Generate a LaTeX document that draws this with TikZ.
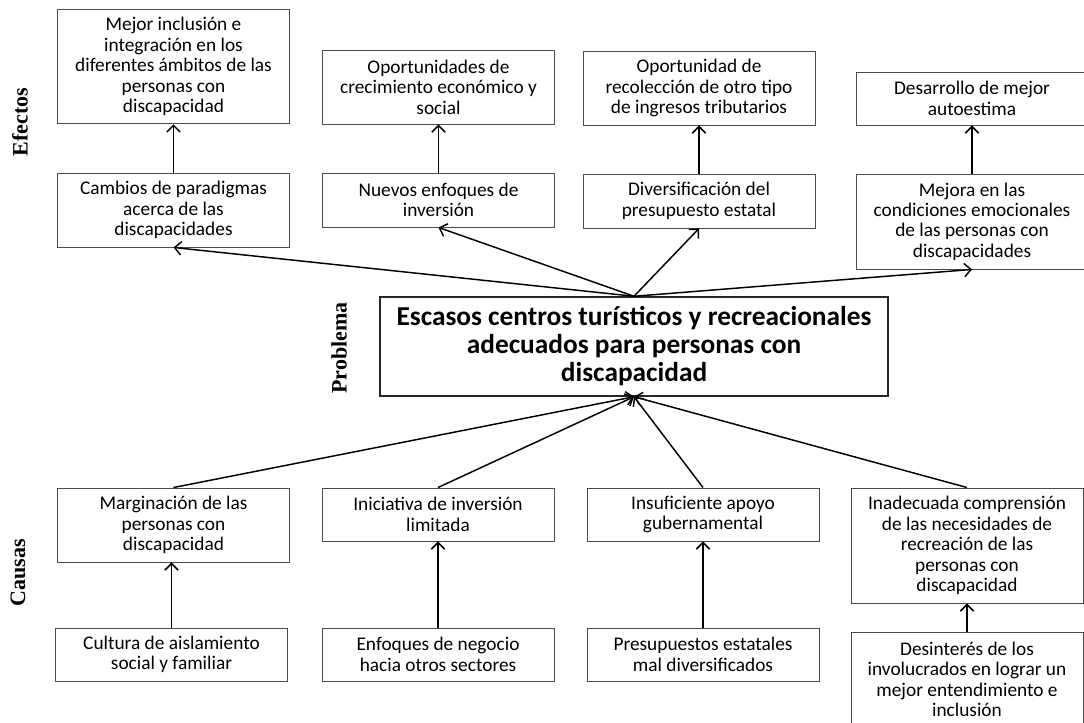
\documentclass[tikz,border=0pt]{standalone}
\usepackage{fontspec}
\setmainfont{Carlito}
\newfontfamily\etiqfont{Liberation Serif}
\usetikzlibrary{arrows.meta}

\tikzset{
  caja/.style={draw=black!70,line width=0.7pt,align=center,minimum width=174pt,
    inner sep=2pt,font=\fontsize{14.5}{15.3}\selectfont},
  flecha/.style={-{Straight Barb[length=5pt,width=10pt]},line width=1.1pt},
  etiq/.style={rotate=90,font=\etiqfont\bfseries\fontsize{16.5}{18}\selectfont}
}

\begin{document}
\begin{tikzpicture}[x=0.75pt,y=-0.75pt]
  \useasboundingbox (0,0) rectangle (1084,723);
  % efectos
  \node[caja,minimum height=86pt] (mejor) at (173.5,66.5)
    {Mejor inclusión e\\integración en los\\diferentes ámbitos de las\\personas con\\discapacidad};
  \node[caja,minimum height=55.5pt] (oport) at (438.5,87)
    {Oportunidades de\\crecimiento económico y\\social};
  \node[caja,minimum height=55.5pt] (recol) at (699,88)
    {Oportunidad de\\recolección de otro tipo\\de ingresos tributarios};
  \node[caja,minimum height=39.75pt] (autoest) at (972,98.5)
    {Desarrollo de mejor\\autoestima};
  \node[caja,minimum height=55.5pt] (cambios) at (173.5,210)
    {Cambios de paradigmas\\acerca de las\\discapacidades};
  \node[caja,minimum height=40.5pt] (nuevos) at (438.5,200)
    {Nuevos enfoques de\\inversión};
  \node[caja,minimum height=40.5pt] (divers) at (699,201)
    {Diversificación del\\presupuesto estatal};
  \node[caja,minimum height=71.25pt] (mejora) at (972,221.5)
    {Mejora en las\\condiciones emocionales\\de las personas con\\discapacidades};
  % problema
  \node[caja,line width=1.1pt,draw=black!85,minimum width=381pt,minimum height=74.25pt,
    font=\bfseries\fontsize{20.5}{21}\selectfont] (prob) at (634,346.5)
    {Escasos centros turísticos y recreacionales\\adecuados para personas con\\discapacidad};
  % causas
  \node[caja,minimum height=55.5pt] (margin) at (173.5,525)
    {Marginación de las\\personas con\\discapacidad};
  \node[caja,minimum height=39.75pt] (inic) at (438,514.5)
    {Iniciativa de inversión\\limitada};
  \node[caja,minimum height=39.75pt] (insuf) at (703,514.5)
    {Insuficiente apoyo\\gubernamental};
  \node[caja,minimum height=86.25pt] (inadec) at (967,545.5)
    {Inadecuada comprensión\\de las necesidades de\\recreación de las\\personas con\\discapacidad};
  \node[caja,minimum height=39.75pt] (cultura) at (171.5,654.5)
    {Cultura de aislamiento\\social y familiar};
  \node[caja,minimum height=39.75pt] (enfoq) at (438,654.5)
    {Enfoques de negocio\\hacia otros sectores};
  \node[caja,minimum height=39.75pt] (presup) at (703,654.5)
    {Presupuestos estatales\\mal diversificados};
  \node[caja,minimum height=71.25pt] (desint) at (967,679.5)
    {Desinterés de los\\involucrados en lograr un\\mejor entendimiento e\\inclusión};
  % etiquetas
  \node[etiq] (efectos) at (20,122) {Efectos};
  \node[etiq] (problema) at (339,348) {Problema};
  \node[etiq] (causas) at (18,573) {Causas};
  % flechas
  \foreach \a/\b in {cambios/mejor,nuevos/oport,divers/recol,mejora/autoest,
                     enfoq/inic,presup/insuf,desint/inadec}
    \draw[flecha] (\a.north) -- (\b.south);
  \draw[flecha] (cultura.north) -- (cultura.north |- margin.south);
  \foreach \b in {cambios,nuevos,divers,mejora}
    \draw[flecha] (prob.north) -- (\b.south);
  \foreach \a in {margin,inic,insuf,inadec}
    \draw[flecha] (\a.north) -- (prob.south);
\end{tikzpicture}
\end{document}
